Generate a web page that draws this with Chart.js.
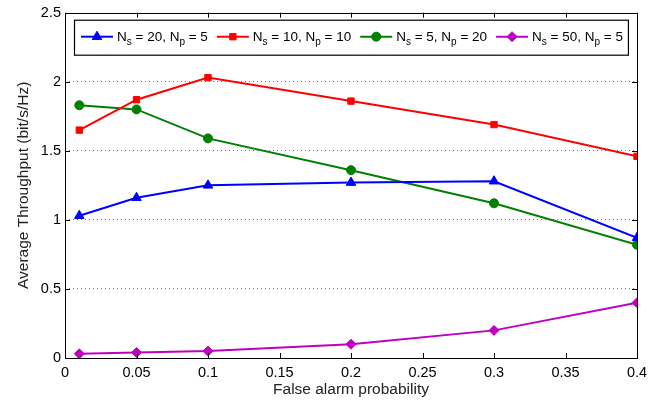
<!DOCTYPE html>
<html>
  <head>
    <meta charset="utf-8">
    <script src="https://cdn.jsdelivr.net/npm/chart.js@4.4.0/dist/chart.umd.min.js"></script>
    <style>
      body { margin: 0; background: #fff; }
      #wrap { width: 660px; height: 403px; }
    </style>
  </head>
  <body>
    <div id="wrap"><canvas id="tputChart" width="660" height="403"></canvas></div>
    <script>
      // false alarm probabilities on the x axis
      const pfa = [0.01, 0.05, 0.1, 0.2, 0.3, 0.4];

      const ns20np5 = [1.03, 1.16, 1.25, 1.27, 1.28, 0.87];
      const ns10np10 = [1.65, 1.87, 2.03, 1.86, 1.69, 1.46];
      const ns5np20 = [1.83, 1.80, 1.59, 1.36, 1.12, 0.82];
      const ns50np5 = [0.03, 0.04, 0.05, 0.10, 0.20, 0.40];

      // legend parts: Ns and Np for each series
      const legendNs = ['20', '10', '5', '50'];
      const legendNp = ['5', '10', '20', '5'];

      const FONT = '"Liberation Sans", Arial, Helvetica, sans-serif';

      function series(vals, color, style, r) {
        return {
          data: vals.map((v, i) => ({x: pfa[i], y: v})),
          borderColor: color,
          backgroundColor: color,
          borderWidth: 2,
          pointStyle: style,
          pointRadius: r,
          pointHoverRadius: r,
          pointBorderWidth: 1,
          tension: 0
        };
      }

      const datasets = [
        series(ns20np5, '#0000ff', 'triangle', 5.5),
        series(ns10np10, '#ff0000', 'rect', 4.5),
        series(ns5np20, '#008000', 'circle', 4.5),
        series(ns50np5, '#c000c0', 'rectRot', 5)
      ];

      // box, inward ticks and the legend with subscripts
      const matlabLook = {
        id: 'matlabLook',
        afterDraw(chart) {
          const ctx = chart.ctx;
          const a = chart.chartArea;
          const xs = chart.scales.x, ys = chart.scales.y;
          ctx.save();
          ctx.strokeStyle = '#000';
          ctx.lineWidth = 1;
          ctx.beginPath();
          xs.ticks.forEach(t => {
            const px = Math.round(xs.getPixelForValue(t.value)) + 0.5;
            ctx.moveTo(px, a.bottom); ctx.lineTo(px, a.bottom - 5);
            ctx.moveTo(px, a.top); ctx.lineTo(px, a.top + 5);
          });
          ys.ticks.forEach(t => {
            const py = Math.round(ys.getPixelForValue(t.value)) + 0.5;
            ctx.moveTo(a.left, py); ctx.lineTo(a.left + 5, py);
            ctx.moveTo(a.right, py); ctx.lineTo(a.right - 5, py);
          });
          ctx.stroke();
          ctx.strokeRect(Math.round(a.left) + 0.5, Math.round(a.top) + 0.5,
                         Math.round(a.right - a.left), Math.round(a.bottom - a.top));

          // legend
          const big = '13.5px ' + FONT, small = '10px ' + FONT;
          const lineLen = 32, gap1 = 4, gap2 = 9;
          const parts = legendNs.map((ns, i) => {
            const segs = [['N', big, 0], ['s', small, 5], [' = ' + ns + ', N', big, 0],
                          ['p', small, 5], [' = ' + legendNp[i], big, 0]];
            let w = 0;
            segs.forEach(s => { ctx.font = s[1]; s.push(ctx.measureText(s[0]).width); w += s[3]; });
            return {segs, w};
          });
          const bx = a.left + 9, by = a.top + 7, bh = 35;
          let total = 7 + 5 - gap2;
          parts.forEach(p => { total += lineLen + gap1 + p.w + gap2; });
          ctx.fillStyle = '#fff';
          ctx.fillRect(bx, by, total, bh);
          ctx.strokeStyle = '#000';
          ctx.lineWidth = 1.2;
          ctx.strokeRect(bx + 0.5, by + 0.5, total, bh);
          let cx = bx + 7;
          const cy = by + 17;
          parts.forEach((p, i) => {
            const ds = chart.data.datasets[i];
            ctx.strokeStyle = ds.borderColor;
            ctx.lineWidth = 2;
            ctx.beginPath();
            ctx.moveTo(cx, cy); ctx.lineTo(cx + lineLen, cy);
            ctx.stroke();
            ctx.fillStyle = ds.backgroundColor;
            ctx.lineWidth = 1;
            Chart.helpers.drawPoint(ctx, {pointStyle: ds.pointStyle, radius: ds.pointRadius, borderWidth: 1},
                                    cx + lineLen / 2, cy);
            cx += lineLen + gap1;
            ctx.fillStyle = '#000';
            ctx.textBaseline = 'middle';
            p.segs.forEach(s => {
              ctx.font = s[1];
              ctx.fillText(s[0], cx, cy + 1 + s[2]);
              cx += s[3];
            });
            cx += gap2;
          });
          ctx.restore();
        }
      };

      new Chart(document.getElementById('tputChart'), {
        type: 'line',
        data: {datasets},
        plugins: [matlabLook],
        options: {
          responsive: false,
          animation: false,
          events: [],
          layout: {padding: {top: 12, right: 23, left: 0, bottom: 0}},
          plugins: {legend: {display: false}, tooltip: {enabled: false}},
          scales: {
            x: {
              type: 'linear',
              min: 0, max: 0.4,
              border: {display: false},
              grid: {display: false, drawTicks: false},
              ticks: {
                stepSize: 0.05,
                color: '#000',
                padding: 6,
                maxRotation: 0,
                font: {family: FONT, size: 14.5},
                callback: v => String(+v.toFixed(2))
              },
              title: {display: true, text: 'False alarm probability', color: '#222',
                      font: {family: FONT, size: 15.5}, padding: {top: 0, bottom: 4}},
              afterFit: s => { s.height = 45; }
            },
            y: {
              min: 0, max: 2.5,
              border: {display: false, dash: [1, 3]},
              grid: {
                color: ctx => (ctx.tick.value > 0 && ctx.tick.value < 2.5) ? '#777' : 'rgba(0,0,0,0)',
                lineWidth: 1,
                drawTicks: false
              },
              ticks: {
                stepSize: 0.5,
                color: '#000',
                padding: 4,
                font: {family: FONT, size: 14.5},
                callback: v => String(v)
              },
              title: {display: true, text: 'Average Throughput (bit/s/Hz)', color: '#222',
                      font: {family: FONT, size: 15.5}, padding: {top: 14, bottom: 0}},
              afterFit: s => { s.width = 65; }
            }
          }
        }
      });
    </script>
  </body>
</html>
